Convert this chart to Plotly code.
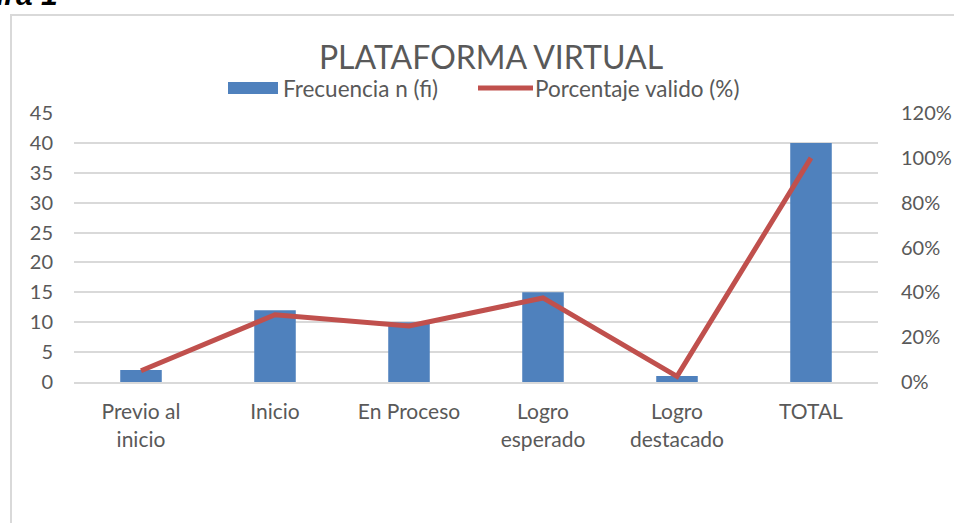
import plotly.graph_objects as go

categories = ["Previo al<br>inicio", "Inicio", "En Proceso", "Logro<br>esperado", "Logro<br>destacado", "TOTAL"]
frecuencia = [2, 12, 10, 15, 1, 40]
porcentaje = [0.05, 0.30, 0.25, 0.375, 0.025, 1.00]
left_ticks = [0, 5, 10, 15, 20, 25, 30, 35, 40, 45]
right_ticks = [0, 0.2, 0.4, 0.6, 0.8, 1.0, 1.2]
series_names = ["Frecuencia n (fi)", "Porcentaje valido (%)"]

FONT = "Lato"
GRAY = "#595959"
BLUE = "#4F81BD"
RED = "#C0504D"

fig = go.Figure()
fig.add_trace(go.Bar(x=categories, y=frecuencia, name=series_names[0],
                     marker=dict(color=BLUE, line=dict(width=0)), width=0.31, showlegend=False))
fig.add_trace(go.Scatter(x=categories, y=porcentaje, name=series_names[1],
                         mode="lines", line=dict(color=RED, width=5), yaxis="y2", showlegend=False))

W, H = 954, 523
l, r, t, b = 74, 76, 113, 141
pw, ph = W - l - r, H - t - b

def px(xp):
    return (xp - l) / pw

def py(yp):
    return (H - b - yp) / ph

legend_y = 88

fig.update_layout(
    width=W, height=H,
    margin=dict(l=l, r=r, t=t, b=b, autoexpand=False),
    paper_bgcolor="white", plot_bgcolor="white",
    font=dict(family=FONT, color=GRAY, size=20),
    title=dict(text="PLATAFORMA VIRTUAL", x=px(491), xref="paper", xanchor="center",
               y=1 - 58 / H, yanchor="middle",
               font=dict(size=32, color=GRAY, family=FONT)),
    showlegend=False,
    xaxis=dict(showgrid=False, showline=True, linecolor="#D9D9D9", linewidth=2,
               ticks="", tickfont=dict(size=21, color=GRAY), ticklabelstandoff=10,
               automargin=False, fixedrange=True),
    yaxis=dict(range=[0, 45], tickvals=left_ticks, showgrid=True, gridcolor="#D9D9D9",
               gridwidth=1.5, zeroline=False, ticks="", tickfont=dict(size=20, color=GRAY),
               ticklabelstandoff=20, automargin=False, fixedrange=True),
    yaxis2=dict(range=[0, 1.2], tickvals=right_ticks, tickformat=".0%", overlaying="y",
                side="right", showgrid=False, zeroline=False, ticks="",
                tickfont=dict(size=20, color=GRAY), ticklabelstandoff=22,
                automargin=False, fixedrange=True),
    shapes=[
        dict(type="rect", xref="paper", yref="paper", x0=px(11), x1=px(970),
             y0=py(540), y1=py(15), line=dict(color="#D9D9D9", width=2),
             fillcolor="rgba(0,0,0,0)", layer="below"),
        dict(type="rect", xref="paper", yref="paper", x0=px(228), x1=px(278),
             y0=py(legend_y + 6), y1=py(legend_y - 6), line=dict(width=0), fillcolor=BLUE),
        dict(type="line", xref="paper", yref="paper", x0=px(478), x1=px(533),
             y0=py(legend_y), y1=py(legend_y), line=dict(color=RED, width=5)),
    ],
    annotations=[
        dict(text="<b><i>Figura 1</i></b>", xref="paper", yref="paper",
             x=px(60), y=py(13), xanchor="right", yanchor="bottom",
             showarrow=False, font=dict(family="Liberation Sans", size=30, color="black")),
        dict(text=series_names[0], xref="paper", yref="paper", x=px(281), y=py(legend_y),
             xanchor="left", yanchor="middle", showarrow=False,
             font=dict(size=22.5, color=GRAY, family=FONT)),
        dict(text=series_names[1], xref="paper", yref="paper", x=px(533), y=py(legend_y),
             xanchor="left", yanchor="middle", showarrow=False,
             font=dict(size=22.5, color=GRAY, family=FONT)),
    ],
)

fig.write_html("out.html", config={"displayModeBar": False},
               post_script="document.body.style.margin='0';document.body.style.overflow='hidden';")
